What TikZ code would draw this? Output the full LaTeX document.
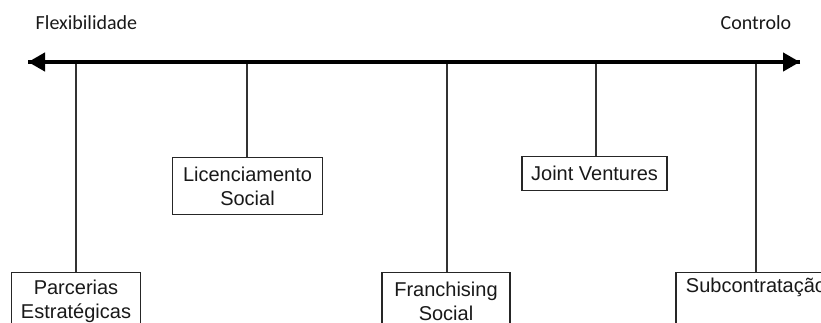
\documentclass[tikz,border=0pt]{standalone}
\usepackage{fontspec}
\setmainfont{Liberation Sans}
\newfontfamily\labfont{Carlito}
\usetikzlibrary{arrows.meta}
\begin{document}
\begin{tikzpicture}[x=1pt,y=-1pt,
  box/.style={draw=black!85, line width=1.3pt, fill=white, align=center, anchor=north,
    font=\fontsize{20}{24.5}\selectfont, text=black!90, inner xsep=2pt, inner ysep=0pt},
  twoline/.style={box, minimum height=57pt},
  oneline/.style={box, minimum height=34pt},
  stem/.style={draw=black!80, line width=1.4pt},
  axislab/.style={font=\labfont\fontsize{20}{24}\selectfont, text=black!90}]
\useasboundingbox (0,0) rectangle (821,322);
\clip (0,0) rectangle (821,322);
% axis
\coordinate (L) at (28,62);
\coordinate (R) at (800,62);
\draw[line width=4.2pt, -{Triangle[length=17pt,width=18pt]}] (L) -- (R);
\draw[line width=4.2pt, -{Triangle[length=17pt,width=18pt]}] (R) -- (L);
\node[axislab] (flex) at (86.5,23) {Flexibilidade};
\node[axislab] (ctrl) at (756,23) {Controlo};
% anchor points on axis
\coordinate (a1) at (76,64);
\coordinate (a2) at (247,64);
\coordinate (a3) at (447,64);
\coordinate (a4) at (596,64);
\coordinate (a5) at (756,64);
% boxes
\node[twoline, minimum width=129pt] (parc) at (76,272) {Parcerias\\Estratégicas};
\node[twoline, minimum width=150pt] (lic) at (247.5,157) {Licenciamento\\Social};
\node[twoline, minimum width=128pt] (fran) at (446,272) {Franchising\\Social};
\node[oneline, minimum width=145pt] (jv) at (594.5,156) {Joint Ventures};
\node[twoline, minimum width=160pt] (sub) at (756,272) {Subcontratação\\\strut};
% stems
\draw[stem] (a1) -- (a1 |- parc.north);
\draw[stem] (a2) -- (a2 |- lic.north);
\draw[stem] (a3) -- (a3 |- fran.north);
\draw[stem] (a4) -- (a4 |- jv.north);
\draw[stem] (a5) -- (a5 |- sub.north);
\end{tikzpicture}
\end{document}
